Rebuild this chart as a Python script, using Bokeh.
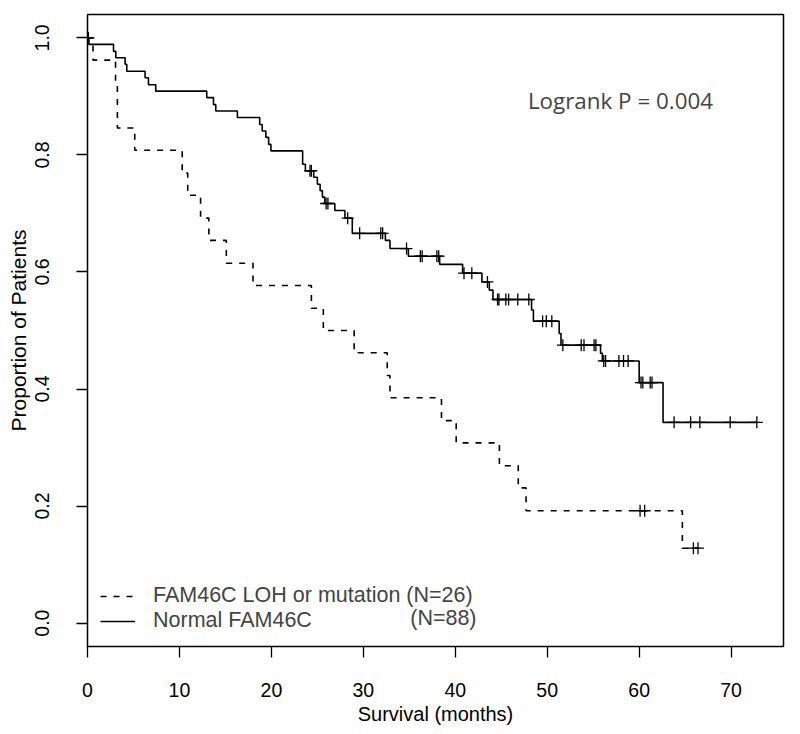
import numpy as np
from bokeh.plotting import figure
from bokeh.models import Range1d, FixedTicker, Legend, LegendItem, Label
from bokeh.embed import file_html
from bokeh.resources import INLINE

# ---- data (months, survival proportion) ----
normal_event_t = [0.15, 2.83, 3.08, 4.09, 4.27, 6.26, 6.63, 7.42, 12.97, 13.7, 13.95, 16.3,
                  18.73, 19.0, 19.4, 19.7, 19.95, 23.4, 23.7, 24.6, 25.0, 25.3, 25.55, 25.8,
                  26.9, 28.0, 28.8, 32.4, 32.9, 34.9, 38.3, 40.8, 42.9, 43.7, 44.1,
                  48.3, 48.5, 51.3, 51.5, 55.8, 56.0, 60.0, 62.6]
normal_surv = [0.989, 0.977, 0.966, 0.955, 0.943, 0.932, 0.920, 0.909, 0.898, 0.886, 0.875, 0.864,
               0.852, 0.841, 0.830, 0.818, 0.807, 0.784, 0.773, 0.762, 0.750, 0.739, 0.728, 0.717,
               0.705, 0.692, 0.666, 0.654, 0.640, 0.627, 0.613, 0.598, 0.583, 0.569, 0.553,
               0.535, 0.516, 0.495, 0.475, 0.461, 0.448, 0.411, 0.343]
normal_censor_t = [0.1, 24.2, 24.35, 25.95, 26.15, 28.3, 29.6, 31.9, 32.1, 34.7, 36.2, 36.4,
                   38.0, 38.2, 40.95, 41.8, 43.5, 44.6, 44.75, 45.5, 45.8, 46.8, 48.0,
                   49.5, 49.9, 50.5, 51.7, 53.7, 54.0, 55.1, 55.3, 56.15, 56.35, 57.8, 58.3,
                   58.8, 60.2, 60.4, 61.2, 61.4, 63.8, 65.6, 66.6, 69.9, 72.8]

loh_event_t = [0.6, 3.05, 3.25, 5.14, 10.3, 10.9, 12.3, 13.2, 15.1, 18.0, 24.35, 25.65,
               29.0, 32.6, 32.9, 38.5, 40.1, 44.8, 46.85, 47.7, 64.7]
loh_surv = [0.962, 0.923, 0.846, 0.808, 0.769, 0.731, 0.692, 0.654, 0.615, 0.577, 0.538, 0.500,
            0.462, 0.423, 0.385, 0.346, 0.308, 0.269, 0.231, 0.192, 0.128]
loh_censor_t = [60.1, 60.6, 65.9, 66.4]

x_ticks = [0, 10, 20, 30, 40, 50, 60, 70]
y_ticks = [0.0, 0.2, 0.4, 0.6, 0.8, 1.0]
y_tick_labels = ["0.0", "0.2", "0.4", "0.6", "0.8", "1.0"]

legend_labels = ["FAM46C LOH or mutation (N=26)", "Normal FAM46C"]
legend_n_normal = "(N=88)"
logrank_text = "Logrank P = 0.004"

FONT = "Liberation Sans"


def step_arrays(event_t, surv, censor_t):
    end = max(max(event_t), max(censor_t))
    xs = [0.0] + list(event_t) + [end]
    ys = [1.0] + list(surv) + [surv[-1]]
    return xs, ys


def surv_at(t, event_t, surv):
    idx = int(np.searchsorted(np.asarray(event_t), t, side="right"))
    return 1.0 if idx == 0 else surv[idx - 1]


p = figure(width=795, height=730, output_backend="svg", toolbar_location=None,
           x_range=Range1d(0, 75.7), y_range=Range1d(-0.04, 1.04),
           min_border_left=87, min_border_right=12, min_border_top=14, min_border_bottom=84)
p.background_fill_color = "white"
p.border_fill_color = "white"
p.outline_line_color = "black"
p.outline_line_width = 1.5
p.xgrid.visible = False
p.ygrid.visible = False

nx, ny = step_arrays(normal_event_t, normal_surv, normal_censor_t)
lx, ly = step_arrays(loh_event_t, loh_surv, loh_censor_t)

r_loh = p.step(lx, ly, mode="after", line_color="black", line_width=1.6, line_dash="6 7")
r_norm = p.step(nx, ny, mode="after", line_color="black", line_width=1.6)

ncy = [surv_at(t, normal_event_t, normal_surv) for t in normal_censor_t]
lcy = [surv_at(t, loh_event_t, loh_surv) for t in loh_censor_t]
p.scatter(normal_censor_t, ncy, marker="cross", size=12, line_color="black", line_width=1.3)
p.scatter(loh_censor_t, lcy, marker="cross", size=12, line_color="black", line_width=1.3)

for ax in (p.xaxis[0], p.yaxis[0]):
    ax.axis_line_color = None
    ax.major_tick_out = 11
    ax.major_tick_in = 0
    ax.minor_tick_line_color = None
    ax.major_tick_line_width = 1.3
    ax.major_label_text_font = FONT
    ax.major_label_text_font_size = "19.5px"
    ax.major_label_text_color = "black"
    ax.axis_label_text_font = FONT
    ax.axis_label_text_font_style = "normal"
    ax.axis_label_text_color = "black"

p.xaxis.axis_label_text_font_size = "20px"
p.yaxis.axis_label_text_font_size = "21px"
p.xaxis.ticker = FixedTicker(ticks=x_ticks)
p.yaxis.ticker = FixedTicker(ticks=y_ticks)
p.yaxis.major_label_overrides = {t: s for t, s in zip(y_ticks, y_tick_labels)}
p.yaxis.major_label_orientation = "vertical"
p.xaxis.axis_label = "Survival (months)"
p.yaxis.axis_label = "Proportion of Patients"
p.xaxis.major_label_standoff = 25
p.yaxis.major_label_standoff = 27
p.xaxis.axis_label_standoff = 3
p.yaxis.axis_label_standoff = 3

legend = Legend(items=[LegendItem(label=legend_labels[0], renderers=[r_loh]),
                       LegendItem(label=legend_labels[1], renderers=[r_norm])],
                location=(13, 13), padding=0, margin=0, spacing=0,
                glyph_width=35, glyph_height=24, label_height=24, label_standoff=18,
                label_text_font=FONT, label_text_font_size="21.5px",
                label_text_baseline="middle",
                border_line_color=None, background_fill_alpha=0)
p.add_layout(legend)

p.add_layout(Label(x=35.1, y=0.0085, text=legend_n_normal, text_font=FONT,
                   text_font_size="21.5px", text_baseline="middle"))
p.add_layout(Label(x=47.9, y=0.8935, text=logrank_text, text_font="Open Sans",
                   text_font_size="22.4px", text_baseline="middle"))

open("out.html", "w").write(file_html(p, INLINE))
